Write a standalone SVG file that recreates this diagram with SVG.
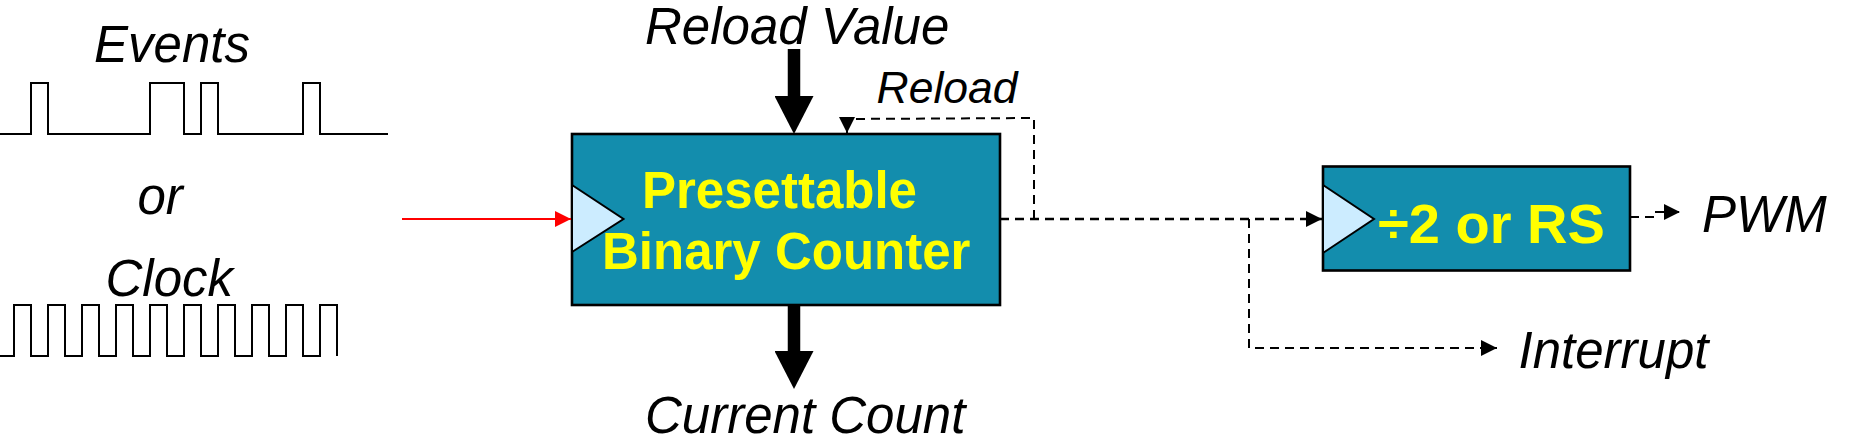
<svg xmlns="http://www.w3.org/2000/svg" width="1851" height="441" viewBox="0 0 1851 441">
<style>
text{font-family:"Liberation Sans",Arial,sans-serif}
.lbl{font-size:51px;font-style:italic;fill:#000}
.in{font-size:51px;font-weight:bold;fill:#ff0;text-anchor:start}
.box{fill:#138dad;stroke:#000;stroke-width:2.6}
.clk{fill:#ccecff;stroke:#000;stroke-width:2}
.wave{fill:none;stroke:#000;stroke-width:2}
.dash{fill:none;stroke:#000;stroke-width:2;stroke-dasharray:9 6}
.thick{fill:none;stroke:#000;stroke-width:12.5}
</style>
<defs>
<marker id="ah" markerUnits="userSpaceOnUse" markerWidth="16" markerHeight="16" refX="16" refY="8" orient="auto"><path d="M0 0L16 8L0 16Z" fill="#000"/></marker>
<marker id="ahr" markerUnits="userSpaceOnUse" markerWidth="16" markerHeight="16" refX="16" refY="8" orient="auto"><path d="M0 0L16 8L0 16Z" fill="#f00"/></marker>
<marker id="big" markerUnits="userSpaceOnUse" markerWidth="38" markerHeight="39" refX="0" refY="19.5" orient="auto"><path d="M0 0L38 19.5L0 39Z" fill="#000"/></marker>
</defs>
<g id="waveforms">
<path class="wave" d="M0 134H31V83H48V134H150V83H184V134H201V83H218V134H303V83H320V134H388"/>
<path class="wave" d="M0 356H14V305H31V356H48V305H65V356H82V305H99V356H116V305H133V356H150V305H167V356H184V305H201V356H218V305H235V356H252V305H269V356H286V305H303V356H320V305H337V356"/>
</g>
<g id="labels">
<text class="lbl" x="94" y="61.500">Events</text>
<text class="lbl" x="137.500" y="213.500">or</text>
<text class="lbl" x="105.500" y="295.500">Clock</text>
<text class="lbl" x="645" y="43.500">Reload Value</text>
<text class="lbl" x="876.500" y="102.500" style="font-size:44.500px">Reload</text>
<text class="lbl" x="645" y="432.500">Current Count</text>
<text class="lbl" x="1702" y="231.500">PWM</text>
<text class="lbl" x="1518.500" y="367.500">Interrupt</text>
</g>
<g id="counter">
<rect class="box" x="572" y="134" width="428" height="171"/>
<polygon class="clk" points="572,185 623.500,219 572,252"/>
<text class="in" x="642" y="207.500">Presettable</text>
<text class="in" x="602" y="268.500">Binary Counter</text>
</g>
<g id="divider">
<rect class="box" x="1323" y="166.500" width="307" height="104"/>
<polygon class="clk" points="1323,185 1374,219 1323,253"/>
<text class="in" x="1378" y="242.500" style="font-size:56px">÷2 or RS</text>
</g>
<g id="connectors">
<path d="M402 219H571" fill="none" stroke="#f00" stroke-width="2" marker-end="url(#ahr)"/>
<path class="thick" d="M794 49V96" marker-end="url(#big)"/>
<path class="thick" d="M794 305V351" marker-end="url(#big)"/>
<path class="dash" d="M1000 219H1322" style="stroke-width:2.500" marker-end="url(#ah)"/>
<path class="dash" d="M1034 219V118L847 119V133" marker-end="url(#ah)"/>
<path class="dash" d="M1249 219V348H1497" marker-end="url(#ah)"/>
<path class="dash" d="M1630 217H1654V212H1680" marker-end="url(#ah)"/>
</g>
</svg>
